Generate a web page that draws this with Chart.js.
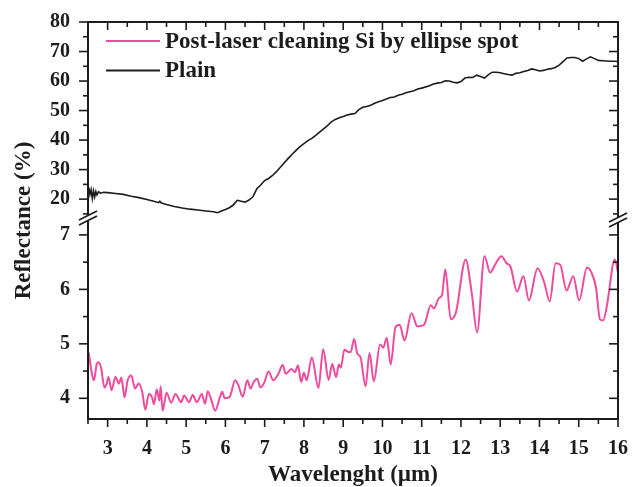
<!DOCTYPE html>
<html>
<head>
<meta charset="utf-8">
<script src="https://cdn.jsdelivr.net/npm/chart.js@4/dist/chart.umd.min.js"></script>
<style>
  html, body { margin: 0; padding: 0; background: #fff; }
</style>
</head>
<body>
<canvas id="chart" width="638" height="487"></canvas>
<script>
// Plain Si (upper panel, %)
const plainX = [2.52, 2.55, 2.58, 2.61, 2.64, 2.67, 2.70, 2.73, 2.77, 2.82, 2.9, 3.0, 3.2, 3.4, 3.6, 3.8, 4.0, 4.2, 4.3, 4.33, 4.37, 4.5, 4.7, 4.9, 5.1, 5.3, 5.5, 5.7, 5.8, 5.9, 6.0, 6.1, 6.2, 6.3, 6.4, 6.5, 6.6, 6.7, 6.8, 6.9, 7.0, 7.1, 7.2, 7.3, 7.4, 7.5, 7.6, 7.7, 7.8, 7.9, 8.0, 8.1, 8.2, 8.3, 8.4, 8.5, 8.6, 8.7, 8.8, 8.9, 9.0, 9.1, 9.2, 9.3, 9.4, 9.5, 9.6, 9.7, 9.8, 9.9, 10.0, 10.1, 10.2, 10.3, 10.4, 10.5, 10.6, 10.7, 10.8, 10.9, 11.0, 11.2, 11.3, 11.4, 11.5, 11.6, 11.7, 11.8, 11.9, 12.0, 12.1, 12.2, 12.3, 12.4, 12.5, 12.6, 12.7, 12.8, 12.9, 13.0, 13.1, 13.2, 13.3, 13.4, 13.5, 13.6, 13.7, 13.8, 13.9, 14.0, 14.1, 14.2, 14.3, 14.4, 14.5, 14.6, 14.7, 14.8, 14.9, 15.0, 15.1, 15.2, 15.3, 15.4, 15.5, 15.6, 15.7, 15.8, 15.9, 16.0];
const plainY = [24.0, 21.5, 23.2, 20.2, 22.8, 20.8, 22.6, 21.4, 22.5, 22.0, 22.3, 22.2, 21.9, 21.6, 21.0, 20.5, 19.9, 19.2, 18.8, 19.3, 18.7, 18.2, 17.5, 17.0, 16.6, 16.3, 16.0, 15.7, 15.4, 16.0, 16.5, 17.1, 18.0, 19.6, 19.3, 19.0, 19.7, 20.8, 23.5, 24.8, 26.3, 27.0, 28.0, 29.3, 30.8, 32.3, 33.8, 35.2, 36.5, 37.8, 38.8, 39.8, 40.6, 41.6, 42.7, 43.8, 44.9, 46.2, 47.0, 47.6, 48.0, 48.5, 48.8, 49.0, 50.3, 51.1, 51.4, 51.8, 52.5, 53.0, 53.4, 53.9, 54.4, 54.6, 55.2, 55.5, 56.0, 56.4, 56.7, 57.3, 57.6, 58.4, 59.0, 59.3, 59.5, 60.1, 60.0, 59.6, 59.4, 59.8, 61.0, 61.3, 61.2, 62.0, 61.5, 61.0, 62.2, 63.0, 63.0, 62.8, 62.5, 62.2, 62.0, 62.6, 62.8, 63.2, 63.6, 64.1, 63.8, 63.4, 63.6, 64.0, 64.2, 64.6, 65.4, 66.6, 67.8, 68.0, 68.0, 67.6, 66.7, 67.5, 68.2, 67.6, 67.0, 66.9, 66.8, 66.7, 66.7, 66.6];

// Post-laser cleaning (lower panel, %)
const cleanX = [2.52, 2.6, 2.65, 2.72, 2.76, 2.83, 2.92, 2.97, 3.02, 3.1, 3.2, 3.29, 3.35, 3.43, 3.51, 3.6, 3.7, 3.79, 3.88, 3.96, 4.05, 4.13, 4.18, 4.25, 4.32, 4.35, 4.4, 4.5, 4.62, 4.73, 4.87, 4.95, 5.07, 5.17, 5.27, 5.4, 5.48, 5.55, 5.64, 5.74, 5.86, 5.92, 5.98, 6.11, 6.25, 6.33, 6.44, 6.56, 6.64, 6.72, 6.81, 6.89, 6.98, 7.1, 7.22, 7.35, 7.46, 7.54, 7.68, 7.77, 7.85, 7.93, 8.0, 8.07, 8.2, 8.37, 8.49, 8.63, 8.72, 8.82, 8.89, 8.94, 9.03, 9.14, 9.19, 9.28, 9.36, 9.44, 9.57, 9.67, 9.78, 9.94, 10.02, 10.11, 10.21, 10.33, 10.44, 10.56, 10.74, 10.89, 11.06, 11.23, 11.31, 11.44, 11.52, 11.6, 11.74, 11.87, 12.12, 12.28, 12.41, 12.6, 12.74, 12.89, 13.03, 13.16, 13.26, 13.43, 13.59, 13.73, 13.95, 14.12, 14.26, 14.41, 14.53, 14.69, 14.86, 15.01, 15.21, 15.33, 15.44, 15.54, 15.62, 15.71, 15.92, 16.0];
const cleanY = [4.84, 4.45, 4.33, 4.62, 4.66, 4.57, 4.2, 4.25, 4.39, 4.15, 4.39, 4.27, 4.38, 4.02, 4.33, 4.42, 4.18, 4.27, 4.12, 3.79, 4.08, 4.02, 3.89, 4.16, 3.96, 4.22, 3.77, 4.1, 3.92, 4.08, 3.93, 4.05, 3.93, 4.06, 3.93, 4.08, 3.9, 4.13, 3.97, 3.77, 4.02, 4.12, 4.0, 4.03, 4.33, 4.24, 4.03, 4.33, 4.18, 4.3, 4.36, 4.2, 4.27, 4.49, 4.33, 4.45, 4.61, 4.45, 4.54, 4.48, 4.6, 4.3, 4.47, 4.33, 4.75, 4.19, 4.9, 4.34, 4.63, 4.39, 4.62, 4.56, 4.89, 4.85, 4.85, 5.09, 4.82, 4.76, 4.22, 4.83, 4.31, 4.99, 4.93, 5.11, 4.62, 5.3, 5.35, 5.06, 5.56, 5.32, 5.35, 5.71, 5.65, 5.84, 5.9, 6.37, 5.45, 5.57, 6.55, 5.9, 5.21, 6.61, 6.31, 6.48, 6.61, 6.48, 6.42, 5.96, 6.24, 5.8, 6.39, 6.13, 5.78, 6.48, 6.45, 5.98, 6.24, 5.8, 6.4, 6.3, 6.03, 5.45, 5.43, 5.67, 6.55, 6.31];

// tick labels
const xTicks = [3, 4, 5, 6, 7, 8, 9, 10, 11, 12, 13, 14, 15, 16];
const upperTicks = [20, 30, 40, 50, 60, 70, 80];
const lowerTicks = [4, 5, 6, 7];

const PINK = '#ee4c9c';
const INK = '#1c1c1c';
const SERIF = "'Liberation Serif', 'Times New Roman', serif";
const tickFont = { family: SERIF, size: 20, weight: 'bold' };

const pts = (xs, ys) => xs.map((x, i) => ({ x: x, y: ys[i] }));

// frame, tick marks, axis breaks, titles and legend
const decor = {
  id: 'decor',
  afterDraw(chart) {
    const { ctx, chartArea: a, scales } = chart;
    const line = (x1, y1, x2, y2) => { ctx.beginPath(); ctx.moveTo(x1, y1); ctx.lineTo(x2, y2); ctx.stroke(); };
    ctx.save();
    ctx.strokeStyle = INK;
    ctx.lineWidth = 2;
    ctx.strokeRect(a.left, a.top, a.right - a.left, a.bottom - a.top);

    ctx.lineWidth = 1.6;
    // x ticks: bottom outward, top inward
    for (let v = 2.5; v <= 16; v += 0.5) {
      const x = scales.x.getPixelForValue(v);
      const len = Number.isInteger(v) ? 8 : 5;
      line(x, a.bottom, x, a.bottom + len);
      line(x, a.top, x, a.top + len);
    }
    // y ticks: left outward, right inward
    const yTicks = (scale, majors, step) => {
      majors.forEach(v => {
        [v, v - step / 2].forEach((t, k) => {
          if (t < scale.min || t > scale.max) return;
          const y = scale.getPixelForValue(t);
          const len = k === 0 ? 9 : 5;
          line(a.left - len, y, a.left, y);
          line(a.right - len, y, a.right, y);
        });
      });
    };
    yTicks(scales.yTop, upperTicks, 10);
    yTicks(scales.yBot, lowerTicks, 1);

    // axis breaks
    const yb = scales.yTop.bottom;
    const brk = (cx, cy) => {
      ctx.fillStyle = '#fff';
      ctx.beginPath();
      ctx.moveTo(cx - 9, cy + 2); ctx.lineTo(cx + 9, cy - 7);
      ctx.lineTo(cx + 9, cy - 2); ctx.lineTo(cx - 9, cy + 7);
      ctx.closePath(); ctx.fill();
      ctx.lineWidth = 1.8;
      line(cx - 9, cy + 2, cx + 9, cy - 7);
      line(cx - 9, cy + 7, cx + 9, cy - 2);
    };
    brk(a.left, yb);
    brk(a.right, yb + 2);

    // axis titles
    ctx.fillStyle = INK;
    ctx.font = "bold 23px " + SERIF;
    ctx.textAlign = 'center';
    ctx.textBaseline = 'middle';
    ctx.fillText('Wavelenght (\u00b5m)', (a.left + a.right) / 2, 475);
    ctx.save();
    ctx.translate(24, (a.top + a.bottom) / 2);
    ctx.rotate(-Math.PI / 2);
    ctx.fillText('Reflectance (%)', 0, 0);
    ctx.restore();

    // legend
    ctx.font = "bold 23px " + SERIF;
    ctx.textAlign = 'left';
    chart.data.datasets.forEach((ds, i) => {
      const y = 41 + i * 29.5;
      ctx.strokeStyle = ds.borderColor;
      ctx.lineWidth = 2;
      line(106, y, 160, y);
      ctx.fillStyle = INK;
      ctx.fillText(ds.label, 165, y + 1);
    });
    ctx.restore();
  }
};

new Chart(document.getElementById('chart'), {
  type: 'line',
  data: {
    datasets: [
      {
        label: 'Post-laser cleaning Si by ellipse spot',
        data: pts(cleanX, cleanY),
        yAxisID: 'yBot',
        borderColor: PINK,
        borderWidth: 2,
        pointRadius: 0,
        cubicInterpolationMode: 'monotone'
      },
      {
        label: 'Plain',
        data: pts(plainX, plainY),
        yAxisID: 'yTop',
        borderColor: INK,
        borderWidth: 1.6,
        pointRadius: 0,
        tension: 0
      }
    ]
  },
  options: {
    responsive: false,
    animation: false,
    layout: { padding: { top: 18, right: 10, left: 0, bottom: 0 } },
    plugins: { legend: { display: false }, tooltip: { enabled: false } },
    scales: {
      x: {
        type: 'linear',
        min: 2.5,
        max: 16,
        grid: { display: false },
        border: { display: false },
        afterBuildTicks: s => { s.ticks = xTicks.map(v => ({ value: v })); },
        afterFit: s => { s.height = 68; },
        ticks: { font: tickFont, color: INK, padding: 10, maxRotation: 0, autoSkip: false }
      },
      // left boxes stack in reverse order, so the lower panel comes first
      yBot: {
        type: 'linear',
        position: 'left',
        stack: 'y',
        stackWeight: 203,
        min: 3.62,
        max: 7.31,
        grid: { display: false },
        border: { display: false },
        afterBuildTicks: s => { s.ticks = lowerTicks.map(v => ({ value: v })); },
        afterFit: s => { s.width = 88; },
        ticks: { font: tickFont, color: INK, padding: 10, autoSkip: false }
      },
      yTop: {
        type: 'linear',
        position: 'left',
        stack: 'y',
        stackWeight: 198,
        min: 13.6,
        max: 80,
        grid: { display: false },
        border: { display: false },
        afterBuildTicks: s => { s.ticks = upperTicks.map(v => ({ value: v })); },
        afterFit: s => { s.width = 88; },
        ticks: { font: tickFont, color: INK, padding: 10, autoSkip: false }
      }
    }
  },
  plugins: [decor]
});
</script>
</body>
</html>
